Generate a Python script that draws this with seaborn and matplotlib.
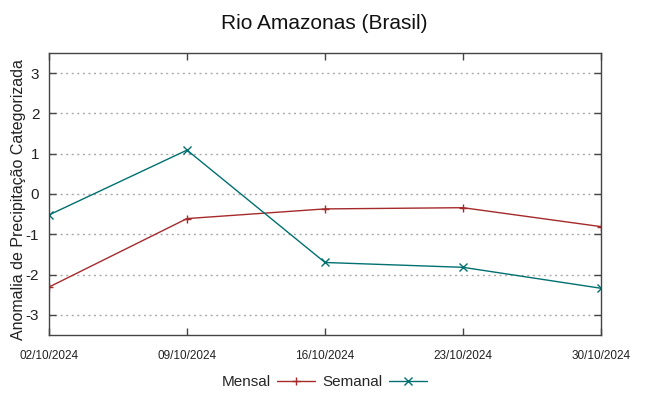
"""Rio Amazonas (Brasil) - anomalia de precipitacao categorizada."""

import matplotlib

matplotlib.use("Agg")
import matplotlib.pyplot as plt
import pandas as pd
import seaborn as sns

dates = ["02/10/2024", "09/10/2024", "16/10/2024", "23/10/2024", "30/10/2024"]
mensal = [-2.31, -0.61, -0.37, -0.34, -0.81]
semanal = [-0.52, 1.09, -1.70, -1.82, -2.34]
y_ticks = [-3, -2, -1, 0, 1, 2, 3]

df = pd.DataFrame({"data": list(range(len(dates))) * 2,
                   "valor": mensal + semanal,
                   "serie": ["Mensal"] * len(dates) + ["Semanal"] * len(dates)})

sns.set_theme(style="white")
plt.rcParams["font.family"] = ["Liberation Sans", "DejaVu Sans"]

fig = plt.figure(figsize=(6.49, 3.96), dpi=100)
ax = fig.add_axes([49 / 649, 1 - 335 / 396, 552 / 649, 282 / 396])

colors = {"Mensal": "#a52a2a", "Semanal": "#007070"}
markers = {"Mensal": "+", "Semanal": "x"}
for serie, sub in df.groupby("serie"):
    sns.lineplot(data=sub, x="data", y="valor", color=colors[serie],
                 marker=markers[serie], markeredgecolor=colors[serie],
                 linewidth=1.0, markersize=6, markeredgewidth=1.0, ax=ax)

ax.set_xlim(0, len(dates) - 1)
ax.set_ylim(-3.5, 3.5)
ax.set_xticks(range(len(dates)))
ax.set_xticklabels(dates, fontsize=8.5)
ax.set_yticks(y_ticks)
ax.set_yticklabels([str(v) for v in y_ticks], fontsize=11)
ax.tick_params(direction="in", length=5, width=1, color="#444444",
               top=True, right=True, bottom=True, left=True, labelcolor="#222222")
ax.tick_params(axis="x", pad=11)
ax.tick_params(axis="y", pad=7)
ax.yaxis.grid(True, linestyle=(0, (1.5, 2.5)), color="#aaaaaa", linewidth=1)
ax.xaxis.grid(False)
for spine in ax.spines.values():
    spine.set_color("#444444")
    spine.set_linewidth(1)

ax.set_xlabel("")
ax.set_ylabel("Anomalia de Precipitação Categorizada", fontsize=11.5, color="#222222",
              va="center")
ax.yaxis.set_label_coords(-0.055, 0.48)
fig.suptitle("Rio Amazonas (Brasil)", fontsize=15, y=0.965, color="#111111")

handles = [plt.Line2D([], [], color=colors[s], marker=markers[s], linewidth=1.0,
                      markersize=6, markeredgewidth=1.0) for s in ["Mensal", "Semanal"]]
fig.legend(handles, ["Mensal", "Semanal"], loc="lower center", bbox_to_anchor=(0.5, -0.018),
           ncol=2, frameon=False, markerfirst=False, fontsize=11, handlelength=2.5,
           columnspacing=0.5, handletextpad=0.4)

fig.savefig("out.png", dpi=100)
plt.close(fig)
